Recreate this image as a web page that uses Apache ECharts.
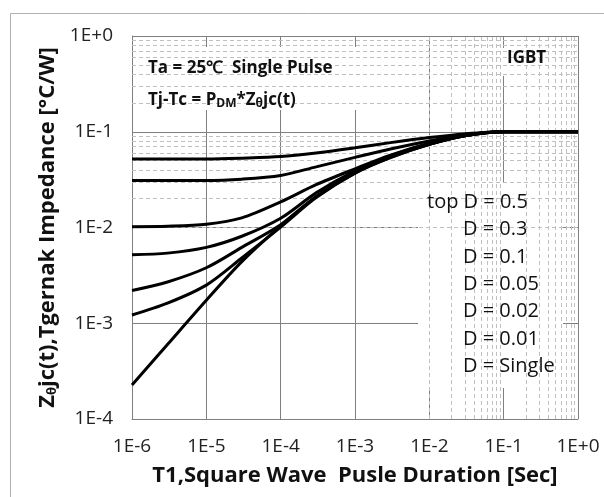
<!DOCTYPE html>
<html>
<head>
<meta charset="utf-8">
<script src="https://cdn.jsdelivr.net/npm/echarts@6/dist/echarts.min.js"></script>
<style>
html,body{margin:0;padding:0;background:#fff;}
#chart{width:604px;height:497px;}
</style>
</head>
<body>
<div id="chart"></div>
<script>
// Pulse durations (s)
const durations = [1e-6, 3e-6, 1e-5, 3e-5, 1e-4, 3e-4, 1e-3, 3e-3, 1e-2, 3e-2, 1e-1, 3e-1, 1];
// Transient thermal impedance (°C/W) per duty cycle
const zD05   = [0.052, 0.052, 0.052, 0.053, 0.055, 0.060, 0.068, 0.077, 0.087, 0.095, 0.100, 0.100, 0.100];
const zD03   = [0.031, 0.031, 0.031, 0.032, 0.035, 0.043, 0.054, 0.066, 0.080, 0.093, 0.100, 0.100, 0.100];
const zD01   = [0.0102, 0.0103, 0.0108, 0.0126, 0.0185, 0.028, 0.041, 0.057, 0.076, 0.092, 0.100, 0.100, 0.100];
const zD005  = [0.0052, 0.0054, 0.0062, 0.0081, 0.0125, 0.023, 0.039, 0.056, 0.075, 0.091, 0.100, 0.100, 0.100];
const zD002  = [0.0022, 0.0027, 0.0038, 0.0062, 0.0107, 0.021, 0.038, 0.055, 0.074, 0.091, 0.100, 0.100, 0.100];
const zD001  = [0.00122, 0.00162, 0.0025, 0.0048, 0.0101, 0.0205, 0.037, 0.054, 0.074, 0.091, 0.100, 0.100, 0.100];
const zSingle= [0.000226, 0.00060, 0.00174, 0.0044, 0.0104, 0.0209, 0.037, 0.0537, 0.074, 0.091, 0.100, 0.100, 0.100];

const seriesNames = ['D = 0.5', 'D = 0.3', 'D = 0.1', 'D = 0.05', 'D = 0.02', 'D = 0.01', 'D = Single'];
const seriesValues = [zD05, zD03, zD01, zD005, zD002, zD001, zSingle];

const legendLabels = ['top D = 0.5', 'D = 0.3', 'D = 0.1', 'D = 0.05', 'D = 0.02', 'D = 0.01', 'D = Single'];

// Tick labels
const xTickLabels = {'-6':'1E-6','-5':'1E-5','-4':'1E-4','-3':'1E-3','-2':'1E-2','-1':'1E-1','0':'1E+0'};
const yTickLabels = {'-4':'1E-4','-3':'1E-3','-2':'1E-2','-1':'1E-1','0':'1E+0'};
const minorMultipliers = [2, 3, 4, 5, 6, 7, 8, 9];
const xDecades = [1e-6, 1e-5, 1e-4, 1e-3, 1e-2, 1e-1];
const yDecades = [1e-4, 1e-3, 1e-2, 1e-1];

const FONT = 'Open Sans';
const chart = echarts.init(document.getElementById('chart'), null, {renderer: 'canvas'});

const minorX = [];
xDecades.forEach(d => minorMultipliers.forEach(m => minorX.push({xAxis: d * m})));
const minorY = [];
yDecades.forEach(d => minorMultipliers.forEach(m => minorY.push({yAxis: d * m})));

const gridLeft = 132, gridTop = 36, gridW = 446, gridH = 383;

const series = [{
  type: 'line',
  data: [],
  silent: true,
  z: 1,
  markLine: {
    silent: true,
    symbol: 'none',
    animation: false,
    label: {show: false},
    lineStyle: {type: [4, 3], color: '#c0c0c0', width: 1},
    data: minorX.concat(minorY)
  }
}];
seriesValues.forEach((vals, i) => {
  series.push({
    name: seriesNames[i],
    type: 'line',
    smooth: 0.3,
    showSymbol: false,
    symbol: 'none',
    z: 5,
    lineStyle: {color: '#000', width: 3},
    data: durations.map((t, j) => [t, vals[j]])
  });
});

const legendX1 = 427, legendX2 = 463, legendY0 = 202, legendStep = 27.4;
const graphics = [
  {type: 'rect', left: 8, top: 11, shape: {width: 620, height: 520}, style: {fill: 'none', stroke: '#b0b0b0', lineWidth: 1}, z: 0, silent: true},
  {type: 'rect', shape: {x: 138, y: 47, width: 224, height: 63}, style: {fill: '#fff'}, z: 3, silent: true},
  {type: 'rect', shape: {x: 497, y: 48, width: 74, height: 28}, style: {fill: '#fff'}, z: 3, silent: true},
  {type: 'rect', shape: {x: 418, y: 183, width: 145, height: 205}, style: {fill: '#fff'}, z: 3, silent: true},
  {type: 'text', x: 148, y: 68, z: 10, style: {
    text: 'Ta = 25℃  Single Pulse', font: 'bold 17px "' + FONT + '"', fill: '#111', textVerticalAlign: 'middle'}},
  {type: 'text', x: 148, y: 100, z: 10, style: {
    text: '{n|Tj-Tc = P}{s|DM}{n|*Z}{s|θ}{n|jc(t)}', textVerticalAlign: 'middle', fill: '#111',
    rich: {
      n: {font: 'bold 17px "' + FONT + '"', fill: '#111'},
      s: {font: 'bold 12px "' + FONT + '"', fill: '#111', verticalAlign: 'bottom', padding: [8, 0, 0, 0]}
    }}},
  {type: 'text', x: 507, y: 58, z: 10, style: {
    text: 'IGBT', font: 'bold 17px "' + FONT + '"', fill: '#111', textVerticalAlign: 'middle'}}
];
legendLabels.forEach((lab, i) => {
  graphics.push({type: 'text', x: i === 0 ? legendX1 : legendX2, y: legendY0 + i * legendStep, z: 10,
    style: {text: lab, font: '20px "' + FONT + '"', fill: '#111', textVerticalAlign: 'middle'}});
});

chart.setOption({
  animation: false,
  backgroundColor: '#fff',
  grid: {left: gridLeft, top: gridTop, width: gridW, height: gridH, containLabel: false},
  xAxis: {
    type: 'log', logBase: 10, min: 1e-6, max: 1,
    name: 'T1,Square Wave  Pusle Duration [Sec]',
    nameLocation: 'middle', nameGap: 46,
    nameTextStyle: {fontFamily: FONT, fontWeight: 'bold', fontSize: 22, color: '#111'},
    axisLine: {show: true, lineStyle: {color: '#808080', width: 1}},
    axisTick: {show: false},
    axisLabel: {
      margin: 18, fontFamily: FONT, fontSize: 19, color: '#222',
      formatter: v => xTickLabels[String(Math.round(Math.log10(v)))] || ''
    },
    splitLine: {show: true, lineStyle: {color: '#808080', width: 1}}
  },
  yAxis: {
    type: 'log', logBase: 10, min: 1e-4, max: 1,
    name: '{z|Z}{s|θ}{z|jc(t),Tgernak Impedance [°C/W]}',
    nameLocation: 'middle', nameGap: 72, nameRotate: 90,
    nameTextStyle: {
      rich: {
        z: {fontFamily: FONT, fontWeight: 'bold', fontSize: 22, color: '#111'},
        s: {fontFamily: FONT, fontWeight: 'bold', fontSize: 13, color: '#111', verticalAlign: 'bottom', padding: [10, 0, 0, 0]}
      }
    },
    axisLine: {show: true, lineStyle: {color: '#808080', width: 1}},
    axisTick: {show: false},
    axisLabel: {
      margin: 19, fontFamily: FONT, fontSize: 19, color: '#222',
      formatter: v => yTickLabels[String(Math.round(Math.log10(v)))] || ''
    },
    splitLine: {show: true, lineStyle: {color: '#808080', width: 1}}
  },
  graphic: graphics,
  series: series
});
</script>
</body>
</html>
